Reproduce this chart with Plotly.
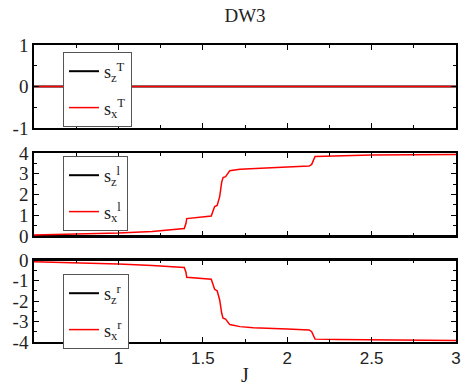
import plotly.graph_objects as go

# ---- data ----
J_flat = [0.5, 3.0]
sz_T = [0.0, 0.0]
sx_T = [0.0, 0.0]
sz_l = [0.0, 0.0]
sz_r = [0.0, 0.0]

J = [0.5, 0.75, 1.0, 1.2, 1.39, 1.40, 1.405, 1.55, 1.56, 1.57, 1.585, 1.60, 1.612,
     1.62, 1.635, 1.66, 1.72, 1.8, 2.0, 2.13, 2.145, 2.165, 2.3, 2.5, 3.0]
sx_l = [0.05, 0.09, 0.14, 0.22, 0.36, 0.6, 0.84, 0.96, 1.2, 1.42, 1.47, 1.9, 2.6,
        2.82, 2.86, 3.15, 3.22, 3.26, 3.33, 3.37, 3.45, 3.83, 3.87, 3.9, 3.93]
sx_r = [-0.08, -0.13, -0.2, -0.27, -0.36, -0.6, -0.84, -0.94, -1.2, -1.43, -1.5, -1.95, -2.6,
        -2.84, -2.88, -3.15, -3.25, -3.3, -3.36, -3.41, -3.5, -3.86, -3.88, -3.9, -3.93]

x_ticks = [1, 1.5, 2, 2.5, 3]
x_ticktext = ["1", "1.5", "2", "2.5", "3"]
y1_ticks = [-1, 0, 1]
y2_ticks = [0, 1, 2, 3, 4]
y3_ticks = [-4, -3, -2, -1, 0]

W, H = 467, 388
SERIF = "Liberation Serif"
SANS = "Liberation Sans"

fig = go.Figure()

def lbl(sub, sup):
    return f"s<sub>{sub}</sub><sup>{sup}</sup>"

panels = [
    ("x", "y", "legend", sz_T, J_flat, sx_T, "T"),
    ("x2", "y2", "legend2", sz_l, J, sx_l, "l"),
    ("x3", "y3", "legend3", sz_r, J, sx_r, "r"),
]
for xa, ya, lg, sz, jx, sx, sup in panels:
    fig.add_trace(go.Scatter(x=J_flat, y=sz, mode="lines", line=dict(color="black", width=2),
                             name=lbl("z", sup), xaxis=xa, yaxis=ya, legend=lg,
                             legendgroup=lg + "a"))
    fig.add_trace(go.Scatter(x=jx, y=sx, mode="lines", line=dict(color="red", width=1.5),
                             name=lbl("x", sup), xaxis=xa, yaxis=ya, legend=lg,
                             legendgroup=lg + "b"))

xdom = [34 / W, 456 / W]
ydoms = [[1 - 128 / H, 1 - 45 / H], [1 - 236 / H, 1 - 153 / H], [1 - 342 / H, 1 - 260 / H]]

axis_common = dict(showline=True, linecolor="black", linewidth=1.5, mirror="allticks",
                   ticks="inside", ticklen=5, tickcolor="black", tickwidth=1,
                   showgrid=False, zeroline=False, automargin=False)

for i, name_x in enumerate(["xaxis", "xaxis2", "xaxis3"]):
    last = i == 2
    fig.layout[name_x] = dict(
        domain=xdom, range=[0.5, 3], anchor=["y", "y2", "y3"][i],
        tickvals=x_ticks, ticktext=x_ticktext, showticklabels=last,
        tickfont=dict(family=SANS, size=17, color="#222"),
        minor=dict(tickvals=[0.75, 1.25, 1.75, 2.25, 2.75], ticks="inside", ticklen=3,
                   tickcolor="black", showgrid=False),
        **axis_common)

yt = [(y1_ticks, [-1, 1]), (y2_ticks, [0, 4]), (y3_ticks, [-4, 0])]
for i, name_y in enumerate(["yaxis", "yaxis2", "yaxis3"]):
    ticks, rng = yt[i]
    fig.layout[name_y] = dict(
        domain=ydoms[i], range=rng, anchor=["x", "x2", "x3"][i],
        tickvals=ticks, ticktext=[str(t) for t in ticks],
        tickfont=dict(family=SERIF, size=19, color="#222"),
        minor=dict(dtick=0.5, ticks="inside", ticklen=3, tickcolor="black", showgrid=False),
        **axis_common)

leg_common = dict(x=63 / W, xanchor="left", yanchor="top", bgcolor="white",
                  bordercolor="#555", borderwidth=1, font=dict(family=SERIF, size=18, color="#222"),
                  tracegroupgap=10, itemwidth=30)
fig.update_layout(
    legend=dict(y=1 - 52 / H, **leg_common),
    legend2=dict(y=1 - 156 / H, **leg_common),
    legend3=dict(y=1 - 274 / H, **leg_common),
)

fig.update_layout(
    width=W, height=H, margin=dict(l=0, r=0, t=0, b=0),
    paper_bgcolor="white", plot_bgcolor="white", showlegend=True,
    font=dict(family=SERIF),
    title=dict(text="DW3", x=245 / W, xanchor="center", y=1 - 15 / H, yanchor="middle",
               font=dict(family=SERIF, size=19, color="#222")),
    annotations=[dict(text="J", x=245 / W, y=1 - 375 / H, xref="paper", yref="paper",
                      xanchor="center", yanchor="middle", showarrow=False,
                      font=dict(family=SERIF, size=20, color="#222"))],
)

fig.write_html("out.html")
